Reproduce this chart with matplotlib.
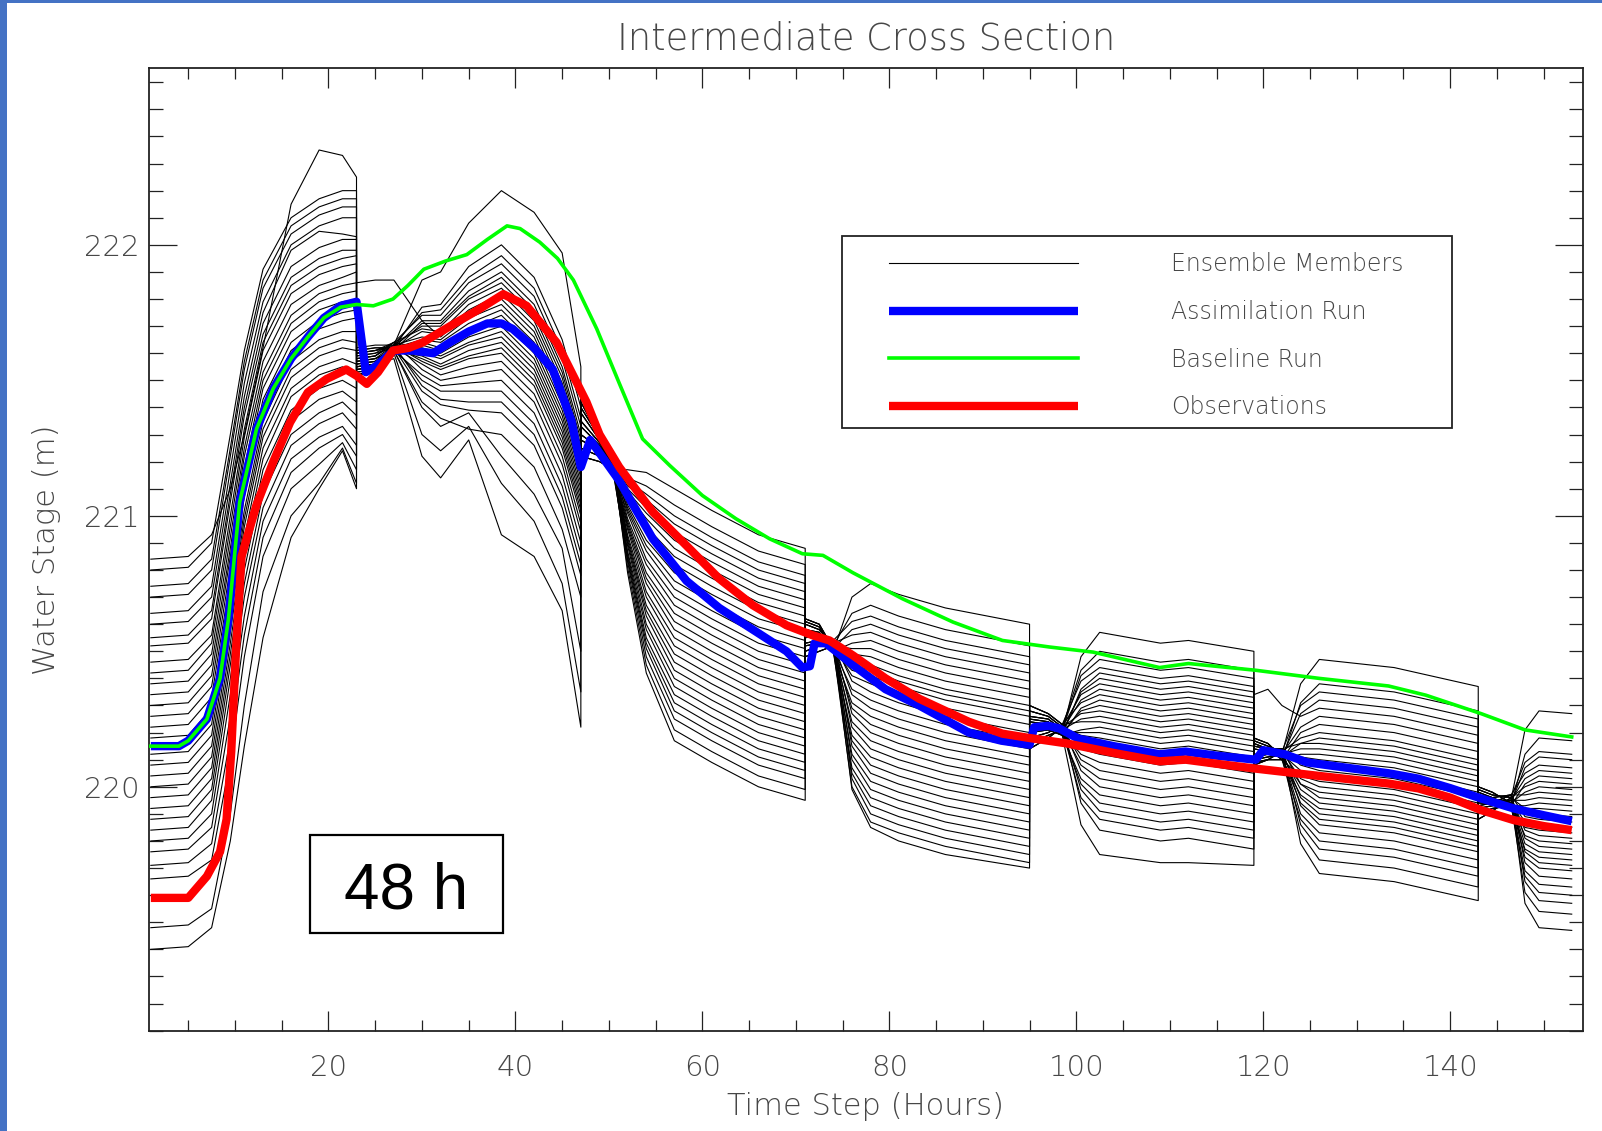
import matplotlib
matplotlib.use("Agg")
import matplotlib.pyplot as plt
from matplotlib.patches import Rectangle
from matplotlib.ticker import MultipleLocator

# ---------------- text ----------------
title = "Intermediate Cross Section"
xlabel = "Time Step (Hours)"
ylabel = "Water Stage (m)"
legend_labels = ["Ensemble Members", "Assimilation Run", "Baseline Run", "Observations"]
lead_label = "48 h"

# ---------------- main series ----------------
obs_t = [1, 5, 7, 8.4, 9.1, 9.6, 10.1, 10.7, 12.3, 14.1, 15.9, 17.8, 19.8, 21.9, 23, 24.1,
         25.3, 26.9, 28.6, 30.1, 33.7, 36, 38.7, 41.2, 44.4, 47.6, 49, 51.1, 54.7, 58.3,
         61.8, 65.4, 69, 71.8, 73.6, 76.1, 79.6, 83.2, 88.5, 92.1, 95, 99, 104, 108.9,
         111.7, 115, 119.2, 126, 133.4, 136.6, 140, 143.3, 146.8, 150, 153]
obs_v = [219.59, 219.59, 219.67, 219.76, 219.88, 220.13, 220.50, 220.85, 221.04, 221.20,
         221.345, 221.456, 221.505, 221.54, 221.517, 221.487, 221.53, 221.61, 221.62, 221.64,
         221.714, 221.76, 221.818, 221.775, 221.64, 221.42, 221.30, 221.18, 221.014, 220.89,
         220.768, 220.67, 220.596, 220.559, 220.54, 220.485, 220.40, 220.325, 220.24, 220.196,
         220.18, 220.16, 220.125, 220.094, 220.10, 220.085, 220.067, 220.04, 220.012, 219.994,
         219.96, 219.914, 219.877, 219.855, 219.84]

asm_t = [1, 4, 5, 7, 8.4, 9.3, 10, 10.5, 12.3, 14.1, 16, 17.8, 19.5, 21.3, 23, 24, 25, 27,
         29, 31.2, 33, 35, 37, 38.5, 39.7, 42, 44, 46, 47, 48, 51.1, 54.7, 58.3, 61.8, 65.4,
         69, 70.7, 71.5, 72, 73.2, 76.1, 79.6, 83.2, 88.5, 92, 95, 95.5, 97, 98.2, 100.2,
         104, 108.9, 111.7, 115, 119.2, 120, 122.3, 124.7, 129, 133.4, 136.6, 140, 143.3,
         146.8, 150, 153]
asm_v = [220.15, 220.15, 220.17, 220.25, 220.40, 220.62, 220.87, 221.05, 221.32, 221.47,
         221.58, 221.66, 221.73, 221.775, 221.79, 221.53, 221.55, 221.61, 221.61, 221.60,
         221.64, 221.68, 221.71, 221.71, 221.69, 221.62, 221.54, 221.35, 221.18, 221.28,
         221.13, 220.915, 220.76, 220.66, 220.58, 220.50, 220.44, 220.445, 220.53, 220.53,
         220.45, 220.36, 220.30, 220.20, 220.17, 220.155, 220.22, 220.225, 220.215, 220.178,
         220.15, 220.12, 220.13, 220.115, 220.10, 220.135, 220.12, 220.09, 220.07, 220.05,
         220.03, 219.995, 219.957, 219.92, 219.895, 219.873]

base_t = [1, 4, 5, 7, 8.4, 9.3, 10, 10.5, 12.3, 14.1, 16, 17.8, 19.5, 21.3, 23, 24.8, 26.9,
          28.5, 30.2, 32.5, 34.8, 37, 39.1, 40.5, 42.6, 44.5, 46.2, 48.7, 51.1, 53.6, 56.5,
          60, 63.6, 67.2, 70.7, 72.9, 76.1, 81.4, 86.8, 92.1, 97.1, 101.8, 108.9, 112,
          119.2, 126, 133.4, 137.4, 143.3, 148, 153]
base_v = [220.15, 220.15, 220.17, 220.25, 220.40, 220.62, 220.87, 221.05, 221.32, 221.47,
          221.58, 221.66, 221.73, 221.77, 221.78, 221.775, 221.80, 221.85, 221.91, 221.94,
          221.964, 222.02, 222.07, 222.06, 222.01, 221.95, 221.87, 221.69, 221.49, 221.284,
          221.186, 221.075, 220.989, 220.915, 220.86, 220.854, 220.79, 220.694, 220.608,
          220.54, 220.516, 220.497, 220.44, 220.455, 220.43, 220.40, 220.372, 220.338,
          220.27, 220.21, 220.184]

# ---------------- ensemble members, one block per 24 h window ----------------
win1_t = [1, 5, 7.5, 9.5, 11, 13, 16, 19, 21.5, 23]
win1_v = [
    [220.84, 220.85, 220.93, 221.10, 221.30, 221.62, 222.15, 222.35, 222.33, 222.25],
    [220.80, 220.81, 220.90, 221.30, 221.61, 221.91, 222.10, 222.17, 222.20, 222.20],
    [220.74, 220.75, 220.84, 221.25, 221.57, 221.87, 222.07, 222.14, 222.17, 222.17],
    [220.70, 220.71, 220.80, 221.22, 221.54, 221.84, 222.04, 222.11, 222.14, 222.14],
    [220.64, 220.65, 220.74, 221.17, 221.49, 221.79, 222.00, 222.07, 222.10, 222.10],
    [220.60, 220.61, 220.70, 221.12, 221.44, 221.75, 221.98, 222.05, 222.04, 222.03],
    [220.55, 220.56, 220.65, 221.08, 221.40, 221.71, 221.92, 221.99, 222.02, 222.02],
    [220.52, 220.53, 220.62, 221.05, 221.37, 221.67, 221.88, 221.95, 221.98, 221.98],
    [220.46, 220.47, 220.56, 221.00, 221.32, 221.64, 221.85, 221.92, 221.95, 221.96],
    [220.42, 220.43, 220.53, 220.96, 221.29, 221.61, 221.82, 221.89, 221.92, 221.93],
    [220.38, 220.39, 220.49, 220.92, 221.25, 221.57, 221.78, 221.85, 221.88, 221.90],
    [220.34, 220.35, 220.45, 220.88, 221.22, 221.53, 221.74, 221.82, 221.85, 221.86],
    [220.30, 220.31, 220.41, 220.85, 221.18, 221.50, 221.71, 221.79, 221.82, 221.83],
    [220.26, 220.27, 220.37, 220.81, 221.15, 221.47, 221.68, 221.76, 221.79, 221.80],
    [220.22, 220.23, 220.33, 220.77, 221.11, 221.43, 221.64, 221.72, 221.75, 221.76],
    [220.18, 220.19, 220.29, 220.73, 221.07, 221.40, 221.61, 221.69, 221.72, 221.73],
    [220.12, 220.13, 220.23, 220.68, 221.02, 221.35, 221.57, 221.65, 221.68, 221.68],
    [220.08, 220.09, 220.19, 220.65, 220.99, 221.32, 221.54, 221.62, 221.65, 221.64],
    [220.04, 220.05, 220.15, 220.61, 220.96, 221.29, 221.51, 221.59, 221.62, 221.61],
    [220.00, 220.01, 220.11, 220.57, 220.92, 221.25, 221.47, 221.55, 221.58, 221.56],
    [219.96, 219.97, 220.07, 220.53, 220.88, 221.21, 221.44, 221.52, 221.55, 221.52],
    [219.92, 219.93, 220.03, 220.49, 220.84, 221.17, 221.39, 221.47, 221.50, 221.47],
    [219.88, 219.89, 219.99, 220.45, 220.80, 221.13, 221.35, 221.43, 221.46, 221.42],
    [219.84, 219.85, 219.95, 220.40, 220.75, 221.08, 221.30, 221.38, 221.42, 221.37],
    [219.80, 219.81, 219.90, 220.34, 220.70, 221.03, 221.26, 221.34, 221.38, 221.32],
    [219.76, 219.77, 219.85, 220.26, 220.63, 220.98, 221.21, 221.29, 221.33, 221.26],
    [219.71, 219.72, 219.79, 220.18, 220.56, 220.92, 221.16, 221.25, 221.30, 221.22],
    [219.66, 219.67, 219.73, 220.10, 220.48, 220.85, 221.10, 221.19, 221.27, 221.17],
    [219.48, 219.49, 219.55, 219.90, 220.30, 220.72, 221.00, 221.12, 221.25, 221.12],
    [219.40, 219.41, 219.48, 219.80, 220.15, 220.55, 220.92, 221.10, 221.24, 221.10],
]

win2_t = [23, 25, 27, 30, 32, 35, 38.5, 42, 45, 47]
win2_v = [
    [221.60, 221.61, 221.63, 221.87, 221.90, 222.08, 222.20, 222.12, 221.97, 221.55],
    [221.52, 221.53, 221.62, 221.77, 221.78, 221.92, 222.00, 221.88, 221.65, 221.40],
    [221.55, 221.56, 221.63, 221.75, 221.76, 221.88, 221.96, 221.84, 221.61, 221.36],
    [221.58, 221.59, 221.64, 221.74, 221.74, 221.86, 221.93, 221.81, 221.58, 221.33],
    [221.61, 221.62, 221.62, 221.72, 221.72, 221.83, 221.90, 221.78, 221.55, 221.30],
    [221.54, 221.55, 221.61, 221.71, 221.71, 221.81, 221.88, 221.76, 221.53, 221.28],
    [221.57, 221.58, 221.63, 221.70, 221.70, 221.80, 221.86, 221.74, 221.51, 221.26],
    [221.59, 221.60, 221.64, 221.69, 221.68, 221.78, 221.84, 221.72, 221.49, 221.24],
    [221.53, 221.54, 221.62, 221.68, 221.67, 221.76, 221.82, 221.70, 221.47, 221.22],
    [221.86, 221.87, 221.87, 221.72, 221.66, 221.75, 221.80, 221.68, 221.45, 221.20],
    [221.56, 221.57, 221.63, 221.66, 221.65, 221.73, 221.78, 221.66, 221.43, 221.18],
    [221.60, 221.61, 221.62, 221.65, 221.64, 221.71, 221.76, 221.64, 221.41, 221.16],
    [221.52, 221.54, 221.61, 221.64, 221.62, 221.69, 221.74, 221.62, 221.39, 221.14],
    [221.55, 221.56, 221.63, 221.63, 221.61, 221.68, 221.72, 221.60, 221.37, 221.12],
    [221.58, 221.59, 221.64, 221.62, 221.60, 221.66, 221.70, 221.58, 221.35, 221.10],
    [221.62, 221.63, 221.63, 221.61, 221.59, 221.64, 221.68, 221.56, 221.33, 221.08],
    [221.54, 221.55, 221.62, 221.60, 221.58, 221.63, 221.66, 221.54, 221.31, 221.06],
    [221.57, 221.58, 221.61, 221.59, 221.56, 221.61, 221.64, 221.52, 221.29, 221.04],
    [221.59, 221.60, 221.62, 221.58, 221.55, 221.59, 221.62, 221.50, 221.27, 221.02],
    [221.53, 221.54, 221.63, 221.57, 221.54, 221.58, 221.60, 221.48, 221.25, 221.00],
    [221.56, 221.57, 221.62, 221.56, 221.52, 221.55, 221.57, 221.45, 221.22, 220.97],
    [221.60, 221.61, 221.64, 221.54, 221.50, 221.52, 221.54, 221.42, 221.19, 220.94],
    [221.52, 221.53, 221.61, 221.52, 221.48, 221.49, 221.50, 221.38, 221.15, 220.90],
    [221.55, 221.56, 221.62, 221.50, 221.46, 221.46, 221.46, 221.34, 221.11, 220.86],
    [221.58, 221.59, 221.63, 221.48, 221.43, 221.42, 221.42, 221.30, 221.07, 220.82],
    [221.61, 221.62, 221.62, 221.46, 221.41, 221.39, 221.38, 221.26, 221.03, 220.78],
    [221.54, 221.55, 221.61, 221.42, 221.36, 221.32, 221.30, 221.18, 220.95, 220.70],
    [221.57, 221.58, 221.61, 221.40, 221.33, 221.38, 221.22, 221.08, 220.88, 220.50],
    [221.56, 221.57, 221.60, 221.30, 221.24, 221.33, 221.12, 220.98, 220.75, 220.35],
    [221.55, 221.56, 221.58, 221.22, 221.14, 221.28, 220.93, 220.85, 220.65, 220.22],
]

win3_t = [47, 49, 50.5, 52, 54, 57, 61, 66, 71]
win3_v = [
    [221.30, 221.25, 221.17, 221.17, 221.16, 221.10, 221.02, 220.93, 220.88],
    [221.35, 221.27, 221.18, 221.14, 221.11, 221.04, 220.96, 220.87, 220.82],
    [221.40, 221.29, 221.16, 221.13, 221.08, 221.00, 220.92, 220.83, 220.78],
    [221.25, 221.22, 221.19, 221.11, 221.06, 220.97, 220.89, 220.80, 220.75],
    [221.45, 221.30, 221.17, 221.10, 221.03, 220.94, 220.86, 220.77, 220.72],
    [221.28, 221.24, 221.15, 221.09, 221.01, 220.91, 220.83, 220.74, 220.69],
    [221.33, 221.26, 221.18, 221.08, 220.99, 220.88, 220.80, 220.71, 220.66],
    [221.38, 221.28, 221.16, 221.07, 220.96, 220.85, 220.77, 220.68, 220.63],
    [221.22, 221.20, 221.17, 221.05, 220.94, 220.82, 220.74, 220.65, 220.60],
    [221.42, 221.29, 221.19, 221.04, 220.91, 220.79, 220.71, 220.62, 220.57],
    [221.30, 221.25, 221.17, 221.03, 220.89, 220.76, 220.68, 220.59, 220.54],
    [221.35, 221.27, 221.18, 221.02, 220.87, 220.73, 220.65, 220.56, 220.51],
    [221.40, 221.29, 221.16, 221.01, 220.84, 220.70, 220.62, 220.53, 220.48],
    [221.25, 221.22, 221.19, 220.99, 220.82, 220.67, 220.59, 220.50, 220.45],
    [221.45, 221.30, 221.17, 220.98, 220.79, 220.64, 220.56, 220.47, 220.42],
    [221.28, 221.24, 221.15, 220.97, 220.77, 220.61, 220.53, 220.44, 220.39],
    [221.33, 221.26, 221.18, 220.96, 220.75, 220.58, 220.50, 220.41, 220.36],
    [221.38, 221.28, 221.16, 220.95, 220.72, 220.55, 220.47, 220.38, 220.33],
    [221.22, 221.20, 221.17, 220.93, 220.70, 220.52, 220.44, 220.35, 220.30],
    [221.42, 221.29, 221.19, 220.92, 220.67, 220.49, 220.41, 220.32, 220.27],
    [221.30, 221.25, 221.17, 220.91, 220.65, 220.46, 220.38, 220.29, 220.24],
    [221.35, 221.27, 221.18, 220.90, 220.63, 220.43, 220.35, 220.26, 220.21],
    [221.40, 221.29, 221.16, 220.89, 220.60, 220.40, 220.32, 220.23, 220.18],
    [221.25, 221.22, 221.19, 220.87, 220.58, 220.37, 220.29, 220.20, 220.15],
    [221.45, 221.30, 221.17, 220.86, 220.55, 220.34, 220.26, 220.17, 220.12],
    [221.28, 221.24, 221.15, 220.85, 220.53, 220.31, 220.23, 220.14, 220.09],
    [221.33, 221.26, 221.18, 220.84, 220.51, 220.28, 220.20, 220.11, 220.06],
    [221.38, 221.28, 221.16, 220.83, 220.48, 220.25, 220.17, 220.08, 220.03],
    [221.22, 221.20, 221.17, 220.81, 220.45, 220.21, 220.13, 220.04, 219.99],
    [221.42, 221.29, 221.19, 220.79, 220.42, 220.17, 220.09, 220.00, 219.95],
]

win4_t = [71, 72.5, 74, 76, 78, 81, 86, 95]
win4_v = [
    [220.56, 220.55, 220.50, 220.70, 220.75, 220.71, 220.66, 220.60],
    [220.60, 220.58, 220.52, 220.64, 220.67, 220.63, 220.58, 220.52],
    [220.50, 220.52, 220.54, 220.61, 220.63, 220.59, 220.54, 220.48],
    [220.62, 220.60, 220.51, 220.58, 220.60, 220.56, 220.51, 220.45],
    [220.53, 220.54, 220.53, 220.56, 220.57, 220.53, 220.48, 220.42],
    [220.58, 220.57, 220.50, 220.53, 220.54, 220.50, 220.45, 220.39],
    [220.48, 220.50, 220.52, 220.51, 220.51, 220.47, 220.42, 220.36],
    [220.55, 220.56, 220.54, 220.49, 220.48, 220.44, 220.39, 220.33],
    [220.61, 220.59, 220.51, 220.46, 220.45, 220.41, 220.36, 220.30],
    [220.52, 220.53, 220.53, 220.45, 220.43, 220.39, 220.34, 220.28],
    [220.56, 220.55, 220.50, 220.43, 220.41, 220.37, 220.32, 220.26],
    [220.60, 220.58, 220.52, 220.41, 220.38, 220.34, 220.29, 220.23],
    [220.50, 220.52, 220.54, 220.39, 220.35, 220.31, 220.26, 220.20],
    [220.62, 220.60, 220.51, 220.36, 220.32, 220.28, 220.23, 220.17],
    [220.53, 220.54, 220.53, 220.34, 220.29, 220.25, 220.20, 220.14],
    [220.58, 220.57, 220.50, 220.31, 220.26, 220.22, 220.17, 220.11],
    [220.48, 220.50, 220.52, 220.29, 220.23, 220.19, 220.14, 220.08],
    [220.55, 220.56, 220.54, 220.27, 220.20, 220.16, 220.11, 220.05],
    [220.61, 220.59, 220.51, 220.24, 220.17, 220.13, 220.08, 220.02],
    [220.52, 220.53, 220.53, 220.22, 220.14, 220.10, 220.05, 219.99],
    [220.56, 220.55, 220.50, 220.19, 220.11, 220.07, 220.02, 219.96],
    [220.60, 220.58, 220.52, 220.17, 220.08, 220.04, 219.99, 219.93],
    [220.50, 220.52, 220.54, 220.15, 220.05, 220.01, 219.96, 219.90],
    [220.62, 220.60, 220.51, 220.12, 220.02, 219.98, 219.93, 219.87],
    [220.53, 220.54, 220.53, 220.10, 219.99, 219.95, 219.90, 219.84],
    [220.58, 220.57, 220.50, 220.07, 219.96, 219.92, 219.87, 219.81],
    [220.48, 220.50, 220.52, 220.05, 219.93, 219.89, 219.84, 219.78],
    [220.55, 220.56, 220.54, 220.03, 219.90, 219.86, 219.81, 219.75],
    [220.61, 220.59, 220.51, 220.00, 219.87, 219.83, 219.78, 219.72],
    [220.52, 220.53, 220.53, 219.99, 219.85, 219.80, 219.75, 219.70],
]

win5_t = [95, 97, 98.5, 100.5, 102.5, 109, 112, 119]
win5_v = [
    [220.22, 220.22, 220.20, 220.48, 220.57, 220.53, 220.54, 220.50],
    [220.28, 220.26, 220.22, 220.43, 220.50, 220.46, 220.47, 220.43],
    [220.16, 220.19, 220.21, 220.41, 220.47, 220.43, 220.44, 220.40],
    [220.30, 220.27, 220.23, 220.39, 220.44, 220.40, 220.41, 220.37],
    [220.20, 220.21, 220.19, 220.36, 220.42, 220.38, 220.39, 220.35],
    [220.25, 220.24, 220.20, 220.35, 220.40, 220.36, 220.37, 220.33],
    [220.14, 220.18, 220.22, 220.34, 220.38, 220.34, 220.35, 220.31],
    [220.26, 220.25, 220.21, 220.32, 220.36, 220.32, 220.33, 220.29],
    [220.18, 220.20, 220.23, 220.31, 220.34, 220.30, 220.31, 220.27],
    [220.24, 220.23, 220.19, 220.29, 220.32, 220.28, 220.29, 220.25],
    [220.22, 220.22, 220.20, 220.28, 220.30, 220.26, 220.27, 220.23],
    [220.28, 220.26, 220.22, 220.27, 220.28, 220.24, 220.25, 220.21],
    [220.16, 220.19, 220.21, 220.25, 220.26, 220.22, 220.23, 220.19],
    [220.30, 220.27, 220.23, 220.24, 220.24, 220.20, 220.21, 220.17],
    [220.20, 220.21, 220.19, 220.21, 220.22, 220.18, 220.19, 220.15],
    [220.25, 220.24, 220.20, 220.20, 220.20, 220.16, 220.17, 220.13],
    [220.14, 220.18, 220.22, 220.19, 220.18, 220.14, 220.15, 220.11],
    [220.26, 220.25, 220.21, 220.17, 220.16, 220.12, 220.13, 220.09],
    [220.18, 220.20, 220.23, 220.16, 220.14, 220.10, 220.11, 220.07],
    [220.24, 220.23, 220.19, 220.14, 220.12, 220.08, 220.09, 220.05],
    [220.22, 220.22, 220.20, 220.12, 220.09, 220.05, 220.06, 220.02],
    [220.28, 220.26, 220.22, 220.10, 220.06, 220.02, 220.03, 219.99],
    [220.16, 220.19, 220.21, 220.08, 220.03, 219.99, 220.00, 219.96],
    [220.30, 220.27, 220.23, 220.06, 220.00, 219.96, 219.97, 219.93],
    [220.20, 220.21, 220.19, 220.03, 219.97, 219.93, 219.94, 219.90],
    [220.25, 220.24, 220.20, 220.01, 219.94, 219.90, 219.91, 219.87],
    [220.14, 220.18, 220.22, 219.99, 219.91, 219.87, 219.88, 219.84],
    [220.26, 220.25, 220.21, 219.96, 219.88, 219.84, 219.85, 219.81],
    [220.18, 220.20, 220.23, 219.94, 219.84, 219.80, 219.81, 219.77],
    [220.24, 220.23, 220.19, 219.86, 219.75, 219.72, 219.72, 219.71],
]

win6_t = [119, 120.5, 122, 124, 126, 134, 143]
win6_v = [
    [220.10, 220.11, 220.12, 220.38, 220.47, 220.44, 220.37],
    [220.16, 220.14, 220.10, 220.31, 220.38, 220.35, 220.28],
    [220.08, 220.10, 220.13, 220.30, 220.35, 220.32, 220.25],
    [220.18, 220.16, 220.11, 220.27, 220.32, 220.29, 220.22],
    [220.34, 220.36, 220.30, 220.26, 220.29, 220.26, 220.19],
    [220.14, 220.13, 220.12, 220.22, 220.26, 220.23, 220.16],
    [220.09, 220.10, 220.10, 220.20, 220.23, 220.20, 220.13],
    [220.17, 220.15, 220.13, 220.18, 220.20, 220.17, 220.10],
    [220.11, 220.12, 220.11, 220.16, 220.18, 220.15, 220.08],
    [220.15, 220.14, 220.14, 220.16, 220.16, 220.13, 220.06],
    [220.10, 220.11, 220.12, 220.14, 220.14, 220.11, 220.04],
    [220.16, 220.14, 220.10, 220.12, 220.12, 220.09, 220.02],
    [220.08, 220.10, 220.13, 220.11, 220.10, 220.07, 220.00],
    [220.18, 220.16, 220.11, 220.09, 220.08, 220.05, 219.98],
    [220.12, 220.12, 220.14, 220.08, 220.06, 220.03, 219.96],
    [220.14, 220.13, 220.12, 220.06, 220.04, 220.01, 219.94],
    [220.09, 220.10, 220.10, 220.04, 220.02, 219.99, 219.92],
    [220.17, 220.15, 220.13, 220.03, 220.00, 219.97, 219.90],
    [220.11, 220.12, 220.11, 220.01, 219.98, 219.95, 219.88],
    [220.15, 220.14, 220.14, 220.01, 219.96, 219.93, 219.86],
    [220.10, 220.11, 220.12, 219.99, 219.94, 219.91, 219.84],
    [220.16, 220.14, 220.10, 219.97, 219.92, 219.89, 219.82],
    [220.08, 220.10, 220.13, 219.96, 219.90, 219.87, 219.80],
    [220.18, 220.16, 220.11, 219.94, 219.88, 219.85, 219.78],
    [220.12, 220.12, 220.14, 219.93, 219.86, 219.83, 219.76],
    [220.14, 220.13, 220.12, 219.90, 219.83, 219.80, 219.73],
    [220.09, 220.10, 220.10, 219.88, 219.80, 219.77, 219.70],
    [220.17, 220.15, 220.13, 219.86, 219.77, 219.74, 219.67],
    [220.11, 220.12, 220.11, 219.83, 219.73, 219.70, 219.63],
    [220.15, 220.14, 220.14, 219.79, 219.68, 219.65, 219.58],
]

win7_t = [143, 144.5, 146.5, 148, 149.5, 153]
win7_v = [
    [219.92, 219.93, 219.95, 220.21, 220.28, 220.27],
    [219.98, 219.96, 219.93, 220.12, 220.18, 220.17],
    [219.88, 219.91, 219.96, 220.09, 220.13, 220.12],
    [220.00, 219.98, 219.94, 220.07, 220.11, 220.10],
    [219.94, 219.94, 219.97, 220.05, 220.08, 220.07],
    [219.96, 219.95, 219.95, 220.03, 220.06, 220.05],
    [219.90, 219.92, 219.93, 220.01, 220.04, 220.03],
    [219.99, 219.97, 219.96, 220.00, 220.02, 220.01],
    [219.93, 219.94, 219.94, 219.98, 220.00, 219.99],
    [219.97, 219.96, 219.97, 219.97, 219.98, 219.97],
    [219.92, 219.93, 219.95, 219.95, 219.96, 219.95],
    [219.98, 219.96, 219.93, 219.93, 219.94, 219.93],
    [219.88, 219.91, 219.96, 219.92, 219.92, 219.91],
    [220.00, 219.98, 219.94, 219.90, 219.90, 219.89],
    [219.94, 219.94, 219.97, 219.89, 219.88, 219.87],
    [219.96, 219.95, 219.95, 219.87, 219.86, 219.85],
    [219.90, 219.92, 219.93, 219.85, 219.84, 219.83],
    [219.99, 219.97, 219.96, 219.84, 219.82, 219.81],
    [219.93, 219.94, 219.94, 219.82, 219.80, 219.79],
    [219.97, 219.96, 219.97, 219.81, 219.78, 219.77],
    [219.92, 219.93, 219.95, 219.79, 219.76, 219.75],
    [219.98, 219.96, 219.93, 219.77, 219.74, 219.73],
    [219.88, 219.91, 219.96, 219.76, 219.72, 219.71],
    [220.00, 219.98, 219.94, 219.74, 219.70, 219.69],
    [219.94, 219.94, 219.97, 219.72, 219.67, 219.66],
    [219.96, 219.95, 219.95, 219.69, 219.64, 219.63],
    [219.90, 219.92, 219.93, 219.67, 219.61, 219.60],
    [219.99, 219.97, 219.96, 219.65, 219.58, 219.57],
    [219.93, 219.94, 219.94, 219.61, 219.54, 219.53],
    [219.97, 219.96, 219.97, 219.57, 219.48, 219.47],
]

windows = [(win1_t, win1_v), (win2_t, win2_v), (win3_t, win3_v), (win4_t, win4_v),
           (win5_t, win5_v), (win6_t, win6_v), (win7_t, win7_v)]

# ---------------- figure ----------------
TXT = "#474747"
FONT = dict(family="DejaVu Sans", weight=200)
fig = plt.figure(figsize=(16.02, 11.31), dpi=100)
fig.patch.set_facecolor("white")
ax = fig.add_axes([0.0930, 0.0880, 0.8951, 0.8522])

n_members = len(win1_v)
ens_handle = None
for i in range(n_members):
    tt, vv = [], []
    for wt, wv in windows:
        tt += list(wt)
        vv += list(wv[i])
    (ln,) = ax.plot(tt, vv, color="black", lw=0.8, zorder=2)
    if ens_handle is None:
        ens_handle = ln

(h_asm,) = ax.plot(asm_t, asm_v, color="#0000ff", lw=6.0, zorder=3,
                   solid_joinstyle="round", solid_capstyle="butt")
(h_base,) = ax.plot(base_t, base_v, color="#00ff00", lw=2.6, zorder=4)
(h_obs,) = ax.plot(obs_t, obs_v, color="#ff0000", lw=6.0, zorder=5,
                   solid_joinstyle="round", solid_capstyle="butt")

ax.set_xlim(0.8, 154.2)
ax.set_ylim(219.097, 222.654)

ax.xaxis.set_major_locator(MultipleLocator(20))
ax.xaxis.set_minor_locator(MultipleLocator(5))
ax.yaxis.set_major_locator(MultipleLocator(1))
ax.yaxis.set_minor_locator(MultipleLocator(0.1))
ax.yaxis.set_major_formatter(plt.FuncFormatter(lambda v, p: f"{v:.0f}"))

ax.tick_params(axis="x", which="major", direction="in", length=14.4, width=0.9,
               top=True, bottom=True, pad=16, labelsize=21, labelcolor=TXT, color="#222222")
ax.tick_params(axis="x", which="minor", direction="in", length=7.7, width=0.9,
               top=True, bottom=True, color="#222222")
ax.tick_params(axis="y", which="major", direction="in", length=20, width=0.9,
               left=True, right=True, pad=7, labelsize=21, labelcolor=TXT, color="#222222")
ax.tick_params(axis="y", which="minor", direction="in", length=10, width=0.9,
               left=True, right=True, color="#222222")
for lbl in ax.get_xticklabels() + ax.get_yticklabels():
    lbl.set_fontfamily(FONT["family"])
    lbl.set_fontweight(FONT["weight"])
for s in ax.spines.values():
    s.set_linewidth(1.3)
    s.set_color("#222222")

ax.set_title(title, fontsize=26.5, pad=13.2, color=TXT, **FONT)
ax.set_xlabel(xlabel, fontsize=22, color=TXT, **FONT)
ax.xaxis.label.set_va("baseline")
ax.xaxis.set_label_coords(0.5, -0.0866)
ax.set_ylabel(ylabel, fontsize=22, color=TXT, **FONT)
ax.yaxis.label.set_va("baseline")
ax.yaxis.set_label_coords(-0.0656, 0.5)

# legend
leg = ax.legend([ens_handle, h_asm, h_base, h_obs], legend_labels, loc="upper left",
                bbox_to_anchor=(0.516, 0.8084), frameon=False, borderpad=0,
                borderaxespad=0, handlelength=8.0, handletextpad=3.94,
                labelspacing=1.0, prop=dict(size=17, **FONT), labelcolor=TXT)
leg.set_zorder(8)
ax.add_patch(Rectangle((0.4833, 0.6262), 0.4254, 0.1992, transform=ax.transAxes,
                       facecolor="white", edgecolor="#222222", lw=1.3, zorder=7))

# lead time box
ax.add_patch(Rectangle((0.1123, 0.1022), 0.1346, 0.1017, transform=ax.transAxes,
                       facecolor="white", edgecolor="black", lw=1.6, zorder=7))
ax.text(0.1796, 0.1278, lead_label, transform=ax.transAxes, ha="center", va="baseline",
        fontsize=46, family="Liberation Sans", color="black", zorder=8)

# slide frame (blue bars at left and top)
fig.patches.append(Rectangle((0, 0), 6.7 / 1602, 1, transform=fig.transFigure,
                             facecolor="#4472C4", edgecolor="none", zorder=10))
fig.patches.append(Rectangle((0, 1 - 3 / 1131), 1, 3 / 1131, transform=fig.transFigure,
                             facecolor="#4472C4", edgecolor="none", zorder=10))

fig.savefig("out.png", dpi=100)
